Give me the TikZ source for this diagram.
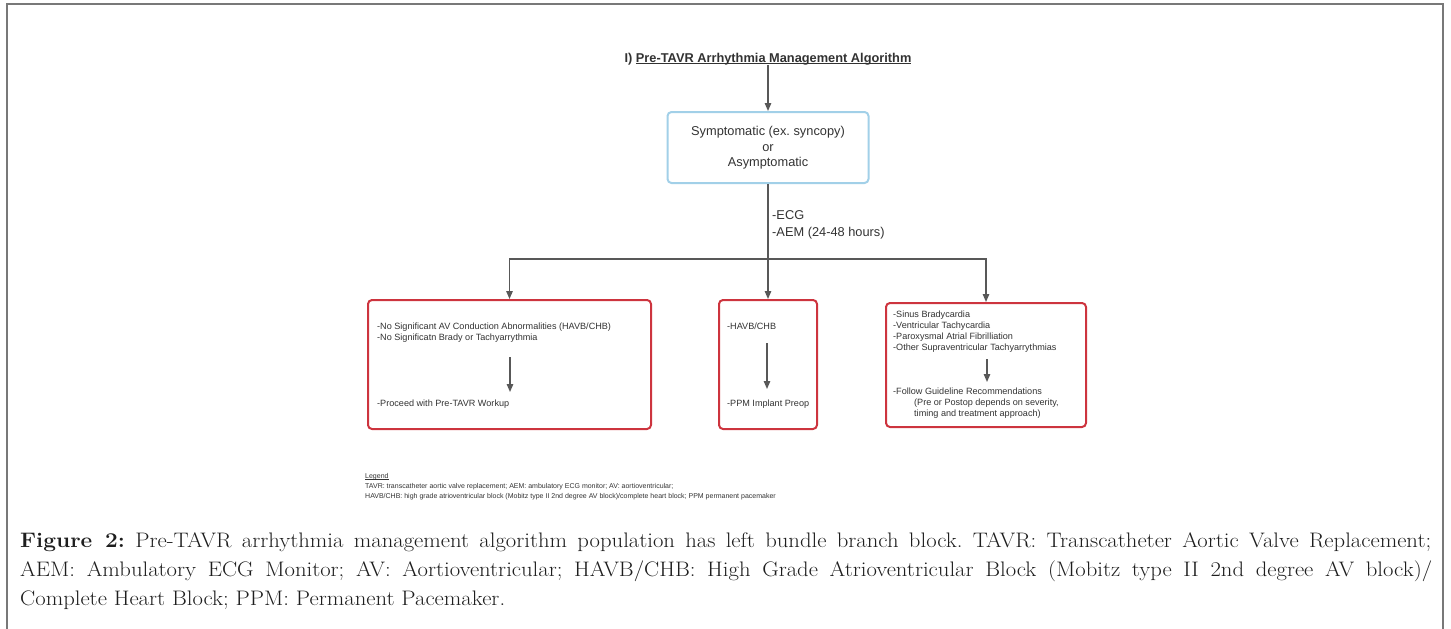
\documentclass[tikz,border=0pt]{standalone}
\usepackage{fontspec}
\newfontfamily\diagfont{Liberation Sans}
\newfontfamily\capfont[FakeStretch=1.08]{Latin Modern Roman}
\usetikzlibrary{arrows.meta}
\definecolor{linegray}{RGB}{88,88,88}
\definecolor{txtgray}{RGB}{50,50,50}
\definecolor{boxred}{RGB}{205,52,62}
\definecolor{boxblue}{RGB}{162,208,232}
\definecolor{framegray}{RGB}{120,120,120}
\definecolor{captxt}{RGB}{30,30,30}
% underline drawn close to the baseline
\newcommand\lowline[1]{\sbox0{#1}\rlap{\rule[-1.4pt]{\wd0}{0.8pt}}\usebox0}
\begin{document}
\frenchspacing
\begin{tikzpicture}[x=1pt,y=-1pt,
  flow/.style={draw=linegray, line width=1.3pt, -{Triangle[length=8pt,width=6.5pt]}},
  link/.style={draw=linegray, line width=1.3pt},
  redbox/.style={draw=boxred, line width=2pt, rounded corners=4pt, anchor=north west, inner sep=0pt},
  bluebox/.style={draw=boxblue, line width=2pt, rounded corners=4pt, anchor=north west, inner sep=0pt},
  boxtext/.style={inner sep=0pt, anchor=north west, align=left, text=txtgray, font=\diagfont\fontsize{9.1}{11}\selectfont},
  captline/.style={inner sep=0pt, anchor=base west, text=captxt, font=\capfont\fontsize{21}{29}\selectfont}]
\useasboundingbox (0,0) rectangle (1451,629);

% frame around the figure
\draw[framegray, line width=2pt] (6.5,629) -- (6.5,4) -- (1443,4) -- (1443,629);

% title
\node[inner sep=0pt, anchor=base, text=txtgray, font=\diagfont\bfseries\fontsize{12.8}{14}\selectfont] (title) at (768,62)
  {I) \lowline{Pre-TAVR Arrhythmia Management Algorithm}};

% presentation box
\node[bluebox, minimum width=201pt, minimum height=71pt] (sym) at (666.5,111) {};
\node[inner sep=0pt, anchor=north, align=center, text=txtgray, font=\diagfont\fontsize{12.8}{15.5}\selectfont] (symtext) at (768,126.5)
  {Symptomatic (ex. syncopy)\\or\\Asymptomatic};
\draw[flow] (title.south -| sym.north) -- (sym.north);

% workup label
\node[inner sep=0pt, anchor=north west, align=left, text=txtgray, font=\diagfont\fontsize{12.8}{17}\selectfont] (tests) at (772,210.5)
  {-ECG\\-AEM (24-48 hours)};

% outcome boxes
\node[redbox, minimum width=283pt, minimum height=129pt] (L) at (367,299) {};
\node[redbox, minimum width=98pt, minimum height=129pt] (M) at (718,299) {};
\node[redbox, minimum width=200pt, minimum height=124pt] (R) at (885,302) {};

% branching connectors
\coordinate (split) at (sym.south |- 0,259);
\draw[link] (sym.south) -- (split);
\draw[flow] (split) -| (L.north);
\draw[flow] (split) -- (M.north);
\draw[flow] (split) -| (R.north);

% left box contents
\node[boxtext] (Ltop) at (377,323)
  {-No Significant AV Conduction Abnormalities (HAVB/CHB)\\-No Significatn Brady or Tachyarrythmia};
\coordinate (La) at (510,357);
\coordinate (Lb) at (510,392);
\draw[flow] (La) -- (Lb);
\node[boxtext] (Lbot) at (377,399.5) {-Proceed with Pre-TAVR Workup};

% middle box contents
\node[boxtext] (Mtop) at (727,322.5) {-HAVB/CHB};
\coordinate (Ma) at (767,343);
\coordinate (Mb) at (767,389);
\draw[flow] (Ma) -- (Mb);
\node[boxtext] (Mbot) at (727,399.5) {-PPM Implant Preop};

% right box contents
\node[boxtext] (Rtop) at (893,310.5)
  {-Sinus Bradycardia\\-Ventricular Tachycardia\\-Paroxysmal Atrial Fibrilliation\\-Other Supraventricular Tachyarrythmias};
\coordinate (Ra) at (987,359);
\coordinate (Rb) at (987,382);
\draw[flow] (Ra) -- (Rb);
\node[boxtext] (Rbot) at (893,387.5)
  {-Follow Guideline Recommendations\\\hspace*{21pt}(Pre or Postop depends on severity,\\\hspace*{21pt}timing and treatment approach)};

% legend
\node[inner sep=0pt, anchor=north west, align=left, text=txtgray, font=\diagfont\fontsize{7}{10}\selectfont] (legend) at (365,473.5)
  {\lowline{Legend}\\TAVR: transcatheter aortic valve replacement; AEM: ambulatory ECG monitor; AV: aortioventricular;\\HAVB/CHB: high grade atrioventricular block (Mobitz type II 2nd degree AV block)/complete heart block; PPM permanent pacemaker};

% caption
\node[captline] (cap1) at (20,547)
  {\makebox[1411pt][s]{\textbf{Figure 2:} Pre-TAVR arrhythmia management algorithm population has left bundle branch block. TAVR: Transcatheter Aortic Valve Replacement;}};
\node[captline] (cap2) at (20,576)
  {\makebox[1412pt][s]{AEM: Ambulatory ECG Monitor; AV: Aortioventricular; HAVB/CHB: High Grade Atrioventricular Block (Mobitz type II 2nd degree AV block)/}};
\node[captline] (cap3) at (20,605)
  {Complete Heart Block; PPM: Permanent Pacemaker.};
\end{tikzpicture}
\end{document}
